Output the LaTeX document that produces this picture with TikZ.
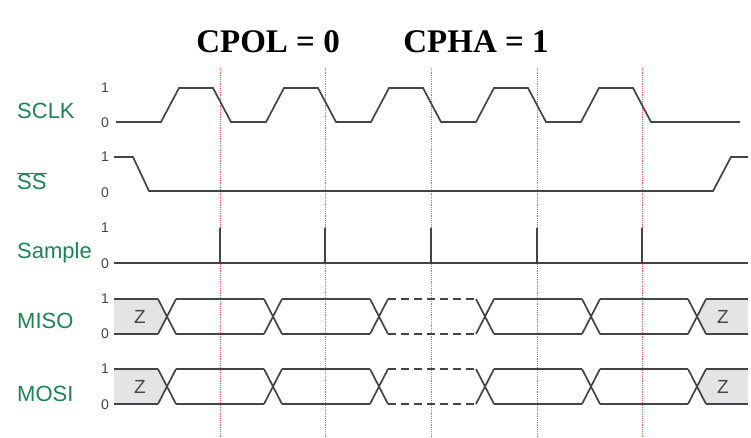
\documentclass[tikz,border=0pt]{standalone}
\usepackage{fontspec}
\setmainfont{Liberation Sans}
\newfontfamily\titlefont{Liberation Serif}
\definecolor{siggreen}{RGB}{27,132,82}
\definecolor{sigline}{RGB}{68,68,68}
\definecolor{zgrey}{RGB}{228,228,230}
\definecolor{redline}{RGB}{240,100,100}
\tikzset{
  sig/.style={draw=sigline, line width=1.7pt, line join=miter},
  dsig/.style={sig, dash pattern=on 8pt off 5pt},
  lbl/.style={text=siggreen, anchor=west, font=\fontsize{22}{25}\selectfont, inner sep=0pt},
  lvl/.style={text=sigline, font=\fontsize{14}{16}\selectfont, inner sep=0pt},
  zlab/.style={text=sigline, font=\fontsize{19}{22}\selectfont, inner sep=0pt},
  guide/.style={draw=redline, line width=1pt, dash pattern=on 1.2pt off 1pt},
  ttl/.style={font=\titlefont\bfseries\fontsize{33}{37}\selectfont, inner sep=0pt}
}
\begin{document}
\begin{tikzpicture}[x=1pt,y=-1pt]
\useasboundingbox (0,0) rectangle (751,438);
% title
\node[ttl] (t1) at (268,42) {CPOL = 0};
\node[ttl] (t2) at (476,42) {CPHA = 1};
% guide lines
\foreach \gx [count=\i] in {220,325,431,537,642} {
  \coordinate (gtop\i) at (\gx,68);
  \coordinate (gbot\i) at (\gx,438);
  \draw[guide] (gtop\i) -- (gbot\i);
}
% labels
\node[lbl] (lsclk) at (17,111) {SCLK};
\node[lbl] (lss) at (17,181) {$\overline{\mbox{SS}}$};
\node[lbl] (lsample) at (17,253) {Sample};
\node[lbl] (lmiso) at (17,321) {MISO};
\node[lbl] (lmosi) at (17,394) {MOSI};
% level marks
\foreach \yy/\nm in {88/a,157/b,228/c,299/d,369/e} \node[lvl] (one\nm) at (105,\yy) {1};
\foreach \yy/\nm in {123/a,193/b,264/c,334/d,405/e} \node[lvl] (zero\nm) at (105,\yy) {0};
% SCLK
\draw[sig] (116,122) -- (161,122)
  -- (179,88) -- (213,88) -- (231,122) -- (266,122)
  -- (284,88) -- (318,88) -- (336,122) -- (371,122)
  -- (389,88) -- (423,88) -- (441,122) -- (476,122)
  -- (494,88) -- (528,88) -- (546,122) -- (581,122)
  -- (599,88) -- (633,88) -- (651,122) -- (740,122);
% SS
\draw[sig] (114,157) -- (133,157) -- (149,191) -- (713,191) -- (731,157) -- (748,157);
% Sample
\draw[sig] (114,263) -- (748,263);
\foreach \gx in {220,325,431,537,642} \draw[sig, line width=1.5pt] (\gx,263) -- (\gx,228);
% MISO / MOSI
\foreach \top/\bot in {299/334,369/404} {
  \pgfmathsetmacro{\mid}{(\top+\bot)/2}
  \fill[zgrey] (114,\top) -- (158,\top) -- (167,\mid) -- (158,\bot) -- (114,\bot) -- cycle;
  \fill[zgrey] (748,\top) -- (706,\top) -- (697,\mid) -- (706,\bot) -- (748,\bot) -- cycle;
  \draw[sig] (114,\top) -- (158,\top);
  \draw[sig] (114,\bot) -- (158,\bot);
  \foreach \c in {167,273,379,485,591,697} {
    \draw[sig] (\c-9,\top) -- (\c+9,\bot);
    \draw[sig] (\c-9,\bot) -- (\c+9,\top);
  }
  \foreach \a/\b in {176/264,282/370,494/582,600/688} {
    \draw[sig] (\a,\top) -- (\b,\top);
    \draw[sig] (\a,\bot) -- (\b,\bot);
  }
  \draw[dsig] (388,\top) -- (476,\top);
  \draw[dsig] (388,\bot) -- (476,\bot);
  \draw[sig] (706,\top) -- (748,\top);
  \draw[sig] (706,\bot) -- (748,\bot);
}
\node[zlab] (zl1) at (140,317) {Z};
\node[zlab] (zr1) at (723,317) {Z};
\node[zlab] (zl2) at (140,387) {Z};
\node[zlab] (zr2) at (723,387) {Z};
\end{tikzpicture}
\end{document}
